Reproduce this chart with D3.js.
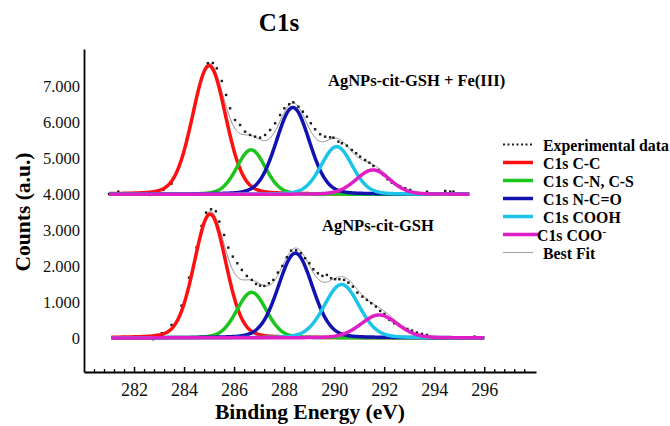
<!DOCTYPE html>
<html>
<head>
<meta charset="utf-8">
<script src="https://cdn.jsdelivr.net/npm/d3@7"></script>
<style>
  body { margin: 0; background: #fff; }
  svg { display: block; font-family: "Liberation Serif", "Times New Roman", serif; }
</style>
</head>
<body>
<div class="chart"></div>
<script>
// peak names, colours for legend
const peakNames = ["C1s C-C", "C1s C-N, C-S", "C1s N-C=O", "C1s COOH", "C1s COO"];
const peakColors = ["#ff1010", "#1dc41d", "#1212b0", "#1cc4ea", "#e01ec6"];

// fitted components: [centre eV, height, fwhm]
const fitTop = [[285.0, 3585, 1.58], [286.68, 1240, 1.35], [288.35, 2420, 1.58], [290.1, 1330, 1.47], [291.55, 680, 1.6]];
const fitBottom = [[285.04, 3450, 1.5], [286.7, 1270, 1.4], [288.45, 2360, 1.62], [290.3, 1490, 1.64], [291.8, 640, 1.73]];
const baseTop = 4000, baseBottom = 0;
const rangeTop = [281.0, 295.4], rangeBottom = [281.1, 296.0];

// experimental data points [eV, counts]
const expTop = [[281.0,4010],[281.37,4076],[281.8,4005],[282.2,3995],[282.64,3983],[283.17,4123],[283.5,4300],[283.8,4760],[284.1,5520],[284.4,6380],[284.7,7200],
  [284.95,7652],[285.15,7660],[285.31,7512],[285.51,7159],[285.68,6769],[285.84,6398],[286.04,6072],[286.24,5933],[286.44,5747],[286.64,5655],[286.84,5608],[287.04,5580],[287.24,5655],[287.44,5794],[287.64,5980],[287.84,6211],[288.01,6398],[288.2,6510],[288.37,6565],[288.57,6443],[288.75,6304],[288.91,6165],[289.07,5980],[289.24,5813],[289.44,5674],[289.64,5608],[289.84,5589],[289.97,5580],[290.17,5469],[290.31,5423],[290.51,5357],[290.71,5237],[290.88,5145],[291.04,5051],[291.24,4958],[291.41,4883],[291.57,4791],[291.77,4680],[291.97,4540],[292.13,4421],[292.31,4327],[292.48,4271],[292.64,4215],[292.84,4169],[293.04,4123],[293.71,4076],[294.44,4095],[294.64,4076],[294.77,4076]];
const expBottom = [[281.17,0],[282.77,-36],[282.91,84],[283.11,130],[283.5,360],[283.9,900],[284.2,1680],[284.5,2520],[284.7,3120],
  [284.88,3491],[285.08,3584],[285.27,3528],[285.41,3240],[285.6,2869],[285.77,2516],[285.95,2266],[286.13,2080],[286.31,1894],[286.51,1727],[286.71,1616],[286.88,1504],[287.04,1457],[287.21,1448],[287.39,1523],[287.57,1616],[287.75,1820],[287.93,2006],[288.11,2247],[288.28,2432],[288.48,2440],[288.67,2358],[288.84,2219],[289.01,2080],[289.17,1913],[289.35,1801],[289.53,1727],[289.71,1755],[289.88,1662],[290.04,1635],[290.21,1635],[290.4,1616],[290.57,1541],[290.75,1429],[290.93,1262],[291.13,1150],[291.31,1058],[291.48,967],[291.67,872],[291.84,752],[292.01,669],[292.21,501],[292.4,409],[292.57,362],[292.75,298],[292.93,251],[293.11,203],[293.31,148],[293.51,111],[293.71,84],[294.0,8],[295.61,36]];

// ticks
const yTicks = [0, 1000, 2000, 3000, 4000, 5000, 6000, 7000];
const xTicks = [282, 284, 286, 288, 290, 292, 294, 296];

const svg = d3.select('.chart').append('svg')
  .attr('width', 670)
  .attr('height', 426);

const x = d3.scaleLinear().domain([280, 298.07]).range([84, 536]);
const y = d3.scaleLinear().domain([-950, 8050]).range([372, 49]);

// peak shape (mostly gaussian, small lorentzian part)
const eta = 0.15;
function peak(e, p) {
  const d = e - p[0], w = p[2];
  const g = Math.exp(-4 * Math.LN2 * d * d / (w * w));
  const l = 1 / (1 + 4 * d * d / (w * w));
  return p[1] * ((1 - eta) * g + eta * l);
}

function drawSpectrum(fit, base, range, exp) {
  const es = d3.range(range[0], range[1] + 0.001, 0.02);
  const line = d3.line().x(d => x(d[0])).y(d => y(d[1]));

  // best fit = sum of peaks
  const sum = es.map(e => [e, base + d3.sum(fit, p => peak(e, p))]);
  svg.append('path').attr('d', line(sum))
    .attr('fill', 'none').attr('stroke', '#8c8c8c').attr('stroke-width', 1);

  svg.append('g').selectAll('rect').data(exp).join('rect')
    .attr('x', d => x(d[0]) - 1.2)
    .attr('y', d => y(d[1]) - 1.2)
    .attr('width', 2.4).attr('height', 2.4)
    .attr('fill', '#1a1a1a');

  fit.forEach((p, i) => {
    const pts = es.map(e => [e, base + peak(e, p)]);
    svg.append('path').attr('d', line(pts))
      .attr('fill', 'none')
      .attr('stroke', peakColors[i])
      .attr('stroke-width', 3.5)
      .attr('stroke-linejoin', 'round');
  });
}

drawSpectrum(fitTop, baseTop, rangeTop, expTop);
drawSpectrum(fitBottom, baseBottom, rangeBottom, expBottom);

// y axis
const yAxis = svg.append('g')
  .attr('transform', 'translate(84,0)')
  .call(d3.axisLeft(y).tickValues(yTicks).tickSize(0).tickPadding(4)
    .tickFormat(d => d === 0 ? '0' : d3.format(',')(d).replace(',', '.')));
yAxis.selectAll('text').attr('font-size', 16.5).attr('fill', '#111')
  .attr('font-family', '"Liberation Serif", serif');
yAxis.select('.domain').attr('stroke', '#000').attr('stroke-width', 1.8);

// x axis, ticks point up
const xAxis = svg.append('g')
  .attr('transform', 'translate(0,372)')
  .call(d3.axisBottom(x).tickValues(xTicks).tickSizeInner(-5).tickSizeOuter(0).tickPadding(11));
xAxis.selectAll('text').attr('font-size', 18).attr('fill', '#111')
  .attr('font-family', '"Liberation Serif", serif');
xAxis.selectAll('.tick line').attr('stroke-width', 1.5);
xAxis.select('.domain').attr('stroke', '#000').attr('stroke-width', 1.8);

const minor = d3.range(280.4, 298, 0.4).filter(v => Math.abs(v / 2 - Math.round(v / 2)) > 0.01);
const xMinor = svg.append('g')
  .attr('transform', 'translate(0,372)')
  .call(d3.axisBottom(x).tickValues(minor).tickSize(-3).tickFormat(''));
xMinor.select('.domain').remove();
xMinor.selectAll('.tick line').attr('stroke-width', 1.3);

// title and axis titles
svg.append('text').text('C1s')
  .attr('x', 279).attr('y', 31)
  .attr('text-anchor', 'middle')
  .attr('font-size', 25).attr('font-weight', 'bold');

svg.append('text').text('Binding Energy (eV)')
  .attr('x', 310).attr('y', 419)
  .attr('text-anchor', 'middle')
  .attr('font-size', 21.5).attr('font-weight', 'bold');

svg.append('text').text('Counts (a.u.)')
  .attr('transform', 'translate(30,212) rotate(-90)')
  .attr('text-anchor', 'middle')
  .attr('font-size', 21.5).attr('font-weight', 'bold');

// sample labels
svg.append('text').text('AgNPs-cit-GSH + Fe(III)')
  .attr('x', 328).attr('y', 86)
  .attr('font-size', 16.5).attr('font-weight', 'bold');
svg.append('text').text('AgNPs-cit-GSH')
  .attr('x', 322).attr('y', 231)
  .attr('font-size', 16.5).attr('font-weight', 'bold');

// legend
const leg = svg.append('g');
const rowY = i => 151 + i * 18;

leg.append('line')
  .attr('x1', 503).attr('x2', 533).attr('y1', rowY(0) - 6.5).attr('y2', rowY(0) - 6.5)
  .attr('stroke', '#222').attr('stroke-width', 2).attr('stroke-dasharray', '2,2.5');
leg.append('text').text('Experimental data')
  .attr('x', 543).attr('y', rowY(0))
  .attr('font-size', 15.8).attr('font-weight', 'bold');

peakNames.forEach((name, i) => {
  const last = i === peakNames.length - 1;
  leg.append('line')
    .attr('x1', 503).attr('x2', last ? 538 : 533)
    .attr('y1', rowY(i + 1) - 6.5).attr('y2', rowY(i + 1) - 6.5)
    .attr('stroke', peakColors[i]).attr('stroke-width', 3.5);
  const t = leg.append('text')
    .attr('x', last ? 537 : 543).attr('y', rowY(i + 1))
    .attr('font-size', 15.8).attr('font-weight', 'bold')
    .text(name);
  if (last) {
    t.append('tspan').text('-').attr('dy', -6).attr('font-size', 11);
  }
});

leg.append('line')
  .attr('x1', 503).attr('x2', 533).attr('y1', rowY(6) - 6.5).attr('y2', rowY(6) - 6.5)
  .attr('stroke', '#aaa').attr('stroke-width', 1.2);
leg.append('text').text('Best Fit')
  .attr('x', 543).attr('y', rowY(6))
  .attr('font-size', 15.8).attr('font-weight', 'bold');
</script>
</body>
</html>
